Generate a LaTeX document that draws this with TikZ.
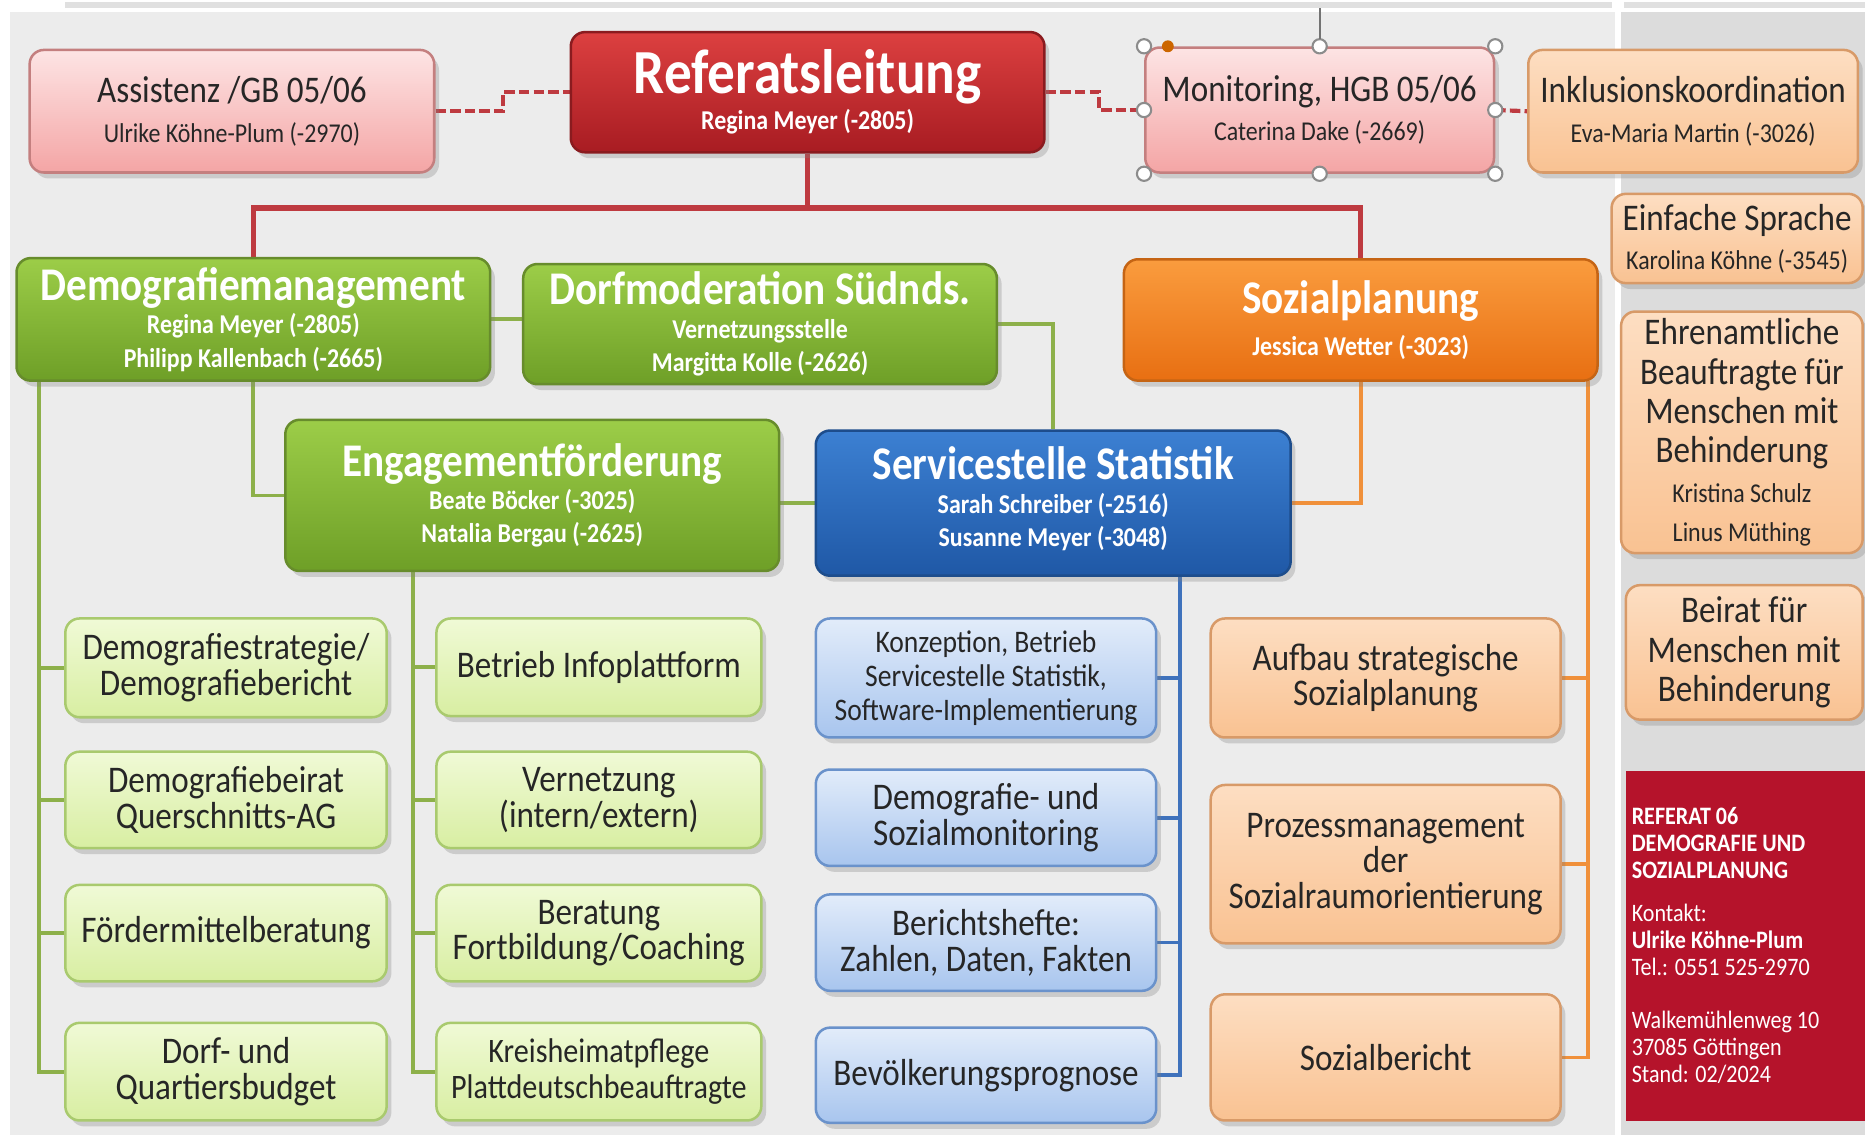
\documentclass[tikz,border=0pt]{standalone}
\usepackage{fontspec}
\setmainfont{Carlito}[FakeStretch=0.88]
\usetikzlibrary{calc}
\usetikzlibrary{shadows}
\usetikzlibrary{backgrounds}
\lineskiplimit=-10pt
\definecolor{bgmain}{HTML}{ECECEC}
\definecolor{bgside}{HTML}{DCDCDC}
\definecolor{rlTop}{HTML}{DC4040}
\definecolor{rlBot}{HTML}{A81C22}
\definecolor{rlBorder}{HTML}{8A1B1F}
\definecolor{grTop}{HTML}{9CCD48}
\definecolor{grBot}{HTML}{6E9F27}
\definecolor{grBorder}{HTML}{678C2C}
\definecolor{orTop}{HTML}{FA9C3E}
\definecolor{orBot}{HTML}{E86F12}
\definecolor{orBorder}{HTML}{C56414}
\definecolor{blTop}{HTML}{3C80D2}
\definecolor{blBot}{HTML}{1F58A6}
\definecolor{blBorder}{HTML}{1D4D8C}
\definecolor{pkTop}{HTML}{FDE4E4}
\definecolor{pkBot}{HTML}{F4A5A5}
\definecolor{pkBorder}{HTML}{C47F7F}
\definecolor{loTop}{HTML}{FDDEC2}
\definecolor{loBot}{HTML}{F9C292}
\definecolor{loBorder}{HTML}{D89A68}
\definecolor{lgTop}{HTML}{F0FAD6}
\definecolor{lgBot}{HTML}{D8EEA2}
\definecolor{lgBorder}{HTML}{A9CA6E}
\definecolor{lbTop}{HTML}{E2ECFA}
\definecolor{lbBot}{HTML}{A8C5EE}
\definecolor{lbBorder}{HTML}{6A92CB}
\definecolor{infored}{HTML}{B5132B}
\definecolor{lnRed}{HTML}{BE3A40}
\definecolor{lnGreen}{HTML}{8DB04A}
\definecolor{lnBlue}{HTML}{3F72BC}
\definecolor{lnOrange}{HTML}{F0903A}
\newcommand{\bigfont}{\fontsize{15pt}{16pt}\selectfont\bfseries}
\newcommand{\headfont}{\fontsize{11.2pt}{12pt}\selectfont\bfseries}
\newcommand{\subfont}{\fontsize{6.5pt}{8pt}\selectfont\bfseries}
\newcommand{\leaffont}{\fontsize{9pt}{8.5pt}\selectfont}
\newcommand{\konzfont}{\fontsize{7.5pt}{8.1pt}\selectfont}
\newcommand{\personfont}{\fontsize{6.5pt}{9.4pt}\selectfont}
\newcommand{\sidefont}{\fontsize{9pt}{9.4pt}\selectfont}
\newcommand{\infofont}{\fontsize{6pt}{6.5pt}\selectfont}
\tikzset{
  box/.style={draw, rounded corners=0.12cm, line width=0.6pt, align=center, inner sep=0pt,
    drop shadow={shadow xshift=0.04cm, shadow yshift=-0.05cm, opacity=0.3}},
  redhead/.style={box, draw=rlBorder, top color=rlTop, bottom color=rlBot, text=white, font=\subfont},
  greenhead/.style={box, draw=grBorder, top color=grTop, bottom color=grBot, text=white, font=\subfont},
  orangehead/.style={box, draw=orBorder, top color=orTop, bottom color=orBot, text=white, font=\subfont},
  bluehead/.style={box, draw=blBorder, top color=blTop, bottom color=blBot, text=white, font=\subfont},
  pinkbox/.style={box, draw=pkBorder, top color=pkTop, bottom color=pkBot, text=black!85, font=\personfont},
  sidebox/.style={box, draw=loBorder, top color=loTop, bottom color=loBot, text=black!85, font=\personfont},
  leafg/.style={box, draw=lgBorder, top color=lgTop, bottom color=lgBot, text=black!85, font=\leaffont},
  leafb/.style={box, draw=lbBorder, top color=lbTop, bottom color=lbBot, text=black!85, font=\leaffont},
  leafo/.style={box, draw=loBorder, top color=loTop, bottom color=loBot, text=black!85, font=\leaffont},
  redline/.style={draw=lnRed, line width=1.3pt},
  reddash/.style={draw=lnRed, line width=1pt, dash pattern=on 2.5pt off 1pt},
  greenline/.style={draw=lnGreen, line width=0.9pt},
  blueline/.style={draw=lnBlue, line width=0.9pt},
  orangeline/.style={draw=lnOrange, line width=0.9pt},
  handle/.style={draw=black!45, fill=white, line width=0.5pt}
}

\begin{document}
\begin{tikzpicture}[x=0.01cm, y=-0.01cm]
\useasboundingbox (0,0) rectangle (1568,954);

\node[pinkbox, minimum width=3.4cm, minimum height=1.03cm] (as) at (195,93.5)
  {{\sidefont Assistenz /GB 05/06}\\ Ulrike Köhne-Plum (-2970)};
\node[redhead, minimum width=3.98cm, minimum height=1.01cm] (ref) at (679,77.5)
  {{\bigfont Referatsleitung}\\[0.6pt] Regina Meyer (-2805)};
\node[pinkbox, minimum width=2.93cm, minimum height=1.05cm] (mon) at (1109.5,92.5)
  {{\sidefont Monitoring, HGB 05/06}\\ Caterina Dake (-2669)};
\node[sidebox, minimum width=2.77cm, minimum height=1.03cm] (ink) at (1423.5,93.5)
  {{\sidefont Inklusionskoordination}\\ Eva-Maria Martin (-3026)};
\node[sidebox, minimum width=2.11cm, minimum height=0.75cm] (einf) at (1460.5,200.5)
  {{\sidefont Einfache Sprache}\\ Karolina Köhne (-3545)};
\node[sidebox, font=\sidefont, minimum width=2.03cm, minimum height=2.03cm] (ehren) at (1464.5,363.5)
  {Ehrenamtliche\\ Beauftragte für\\ Menschen mit\\ Behinderung\\ {\personfont Kristina Schulz}\\ {\personfont Linus Müthing}};
\node[sidebox, font=\sidefont, minimum width=1.99cm, minimum height=1.13cm] (beirat) at (1466.5,548.5)
  {Beirat für\\ Menschen mit\\ Behinderung};
\node[fill=infored, text=white, minimum height=2.94cm, text width=1.91cm, inner xsep=0.05cm, inner ysep=0pt, align=left, font=\infofont] (info) at (1467.5,795)
  {\spaceskip=0pt\xspaceskip=0pt\textbf{REFERAT 06}\\ \textbf{DEMOGRAFIE UND}\\ \textbf{SOZIALPLANUNG}\\[3.7pt] Kontakt:\\ \textbf{Ulrike Köhne-Plum}\\ Tel.: 0551 525-2970\\[6pt] Walkemühlenweg 10\\ 37085 Göttingen\\ Stand: 02/2024};

\node[greenhead, minimum width=3.98cm, minimum height=1.03cm] (dm) at (213,268.5)
  {{\headfont Demografiemanagement}\\ Regina Meyer (-2805)\\ Philipp Kallenbach (-2665)};
\node[greenhead, minimum width=3.98cm, minimum height=1.01cm] (dorf) at (639,272.5)
  {{\headfont Dorfmoderation Südnds.}\\ Vernetzungsstelle\\ Margitta Kolle (-2626)};
\node[orangehead, minimum width=3.98cm, minimum height=1.02cm] (sp) at (1144,269)
  {{\headfont Sozialplanung}\\[1.9pt] Jessica Wetter (-3023)};
\node[greenhead, minimum width=4.15cm, minimum height=1.27cm] (eng) at (447.5,416.5)
  {{\headfont Engagementförderung}\\ Beate Böcker (-3025)\\ Natalia Bergau (-2625)};
\node[bluehead, minimum width=3.99cm, minimum height=1.22cm, text depth=0.11cm] (ss) at (885.5,423)
  {{\headfont Servicestelle Statistik}\\ Sarah Schreiber (-2516)\\ Susanne Meyer (-3048)};

\node[leafg, minimum width=2.7cm, minimum height=0.83cm] (dstrat) at (190,561.5) {Demografiestrategie/\\ Demografiebericht};
\node[leafg, minimum width=2.7cm, minimum height=0.81cm] (dbeirat) at (190,672.5) {Demografiebeirat\\ Querschnitts-AG};
\node[leafg, minimum width=2.7cm, minimum height=0.81cm] (foerd) at (190,784.5) {Fördermittelberatung};
\node[leafg, minimum width=2.7cm, minimum height=0.82cm] (budget) at (190,901) {Dorf- und\\ Quartiersbudget};

\node[leafg, minimum width=2.73cm, minimum height=0.82cm] (infopl) at (503.5,561) {Betrieb Infoplattform};
\node[leafg, minimum width=2.73cm, minimum height=0.81cm] (vernetz) at (503.5,672.5) {Vernetzung\\ (intern/extern)};
\node[leafg, minimum width=2.73cm, minimum height=0.81cm] (berat) at (503.5,784.5) {Beratung\\ Fortbildung/Coaching};
\node[leafg, minimum width=2.73cm, minimum height=0.82cm, font=\fontsize{8.2pt}{8.6pt}\selectfont] (kreis) at (503.5,901) {Kreisheimatpflege\\ Plattdeutschbeauftragte};

\node[leafb, minimum width=2.86cm, minimum height=1cm, font=\konzfont] (konz) at (829,570) {Konzeption, Betrieb\\ Servicestelle Statistik,\\ Software-Implementierung};
\node[leafb, minimum width=2.86cm, minimum height=0.81cm] (monit) at (829,687.5) {Demografie- und\\ Sozialmonitoring};
\node[leafb, minimum width=2.86cm, minimum height=0.81cm] (hefte) at (829,792.5) {Berichtshefte:\\ Zahlen, Daten, Fakten};
\node[leafb, minimum width=2.86cm, minimum height=0.8cm] (prog) at (829,904) {Bevölkerungsprognose};

\node[leafo, minimum width=2.94cm, minimum height=1cm] (aufbau) at (1165,570) {Aufbau strategische\\ Sozialplanung};
\node[leafo, minimum width=2.94cm, minimum height=1.33cm] (prozess) at (1165,726.5) {Prozessmanagement\\ der\\ Sozialraumorientierung};
\node[leafo, minimum width=2.94cm, minimum height=1.06cm] (sbericht) at (1165,889) {Sozialbericht};

\foreach \p in {north west,north,north east,west,east,south west,south,south east}
  \draw[handle] (mon.\p) circle (6);
\draw[black!55, line width=0.5pt] (mon.north) ++(0,-6) -- ++(0,-26);
\fill[orange!80!black] ($(mon.north west)+(20,0)$) circle (5);

\begin{pgfonlayer}{background}
\fill[white] (0,0) rectangle (1568,954);
\fill[bgmain] (8,10) rectangle (1358,954);
\fill[bgside] (1363,10) rectangle (1568,954);
\fill[black!12] (55,2) rectangle (1355,7);
\fill[black!12] (1365,2) rectangle (1568,7);

\coordinate (rbus) at (679,175);
\draw[redline] (ref.south) -- (rbus);
\draw[redline] (dm.north) |- (rbus) -| (sp.north);
\draw[reddash] (as.east) -- ++(57,0) |- (ref.west);
\draw[reddash] (ref.east) -- ++(45,0) |- (mon.west);
\draw[reddash] (mon.east) -- (ink.west);

\draw[greenline] (dm.east) -- (dm.east -| dorf.west);
\draw[greenline] (dorf.east) -| (ss.north);
\draw[greenline] (dm.south) |- (eng.west);
\draw[greenline] (ss.west) -- (ss.west -| eng.east);
\draw[orangeline] (sp.south) |- (ss.east);

\coordinate (g1) at (33,320);
\foreach \n in {dstrat,dbeirat,foerd,budget}
  \draw[greenline] (g1) |- (\n.west);
\coordinate (g2) at (347,480);
\foreach \n in {infopl,vernetz,berat,kreis}
  \draw[greenline] (g2) |- (\n.west);
\coordinate (b3) at (992,484);
\foreach \n in {konz,monit,hefte,prog}
  \draw[blueline] (b3) |- (\n.east);
\coordinate (o4) at (1335,320);
\foreach \n in {aufbau,prozess,sbericht}
  \draw[orangeline] (o4) |- (\n.east);
\end{pgfonlayer}
\end{tikzpicture}
\end{document}
